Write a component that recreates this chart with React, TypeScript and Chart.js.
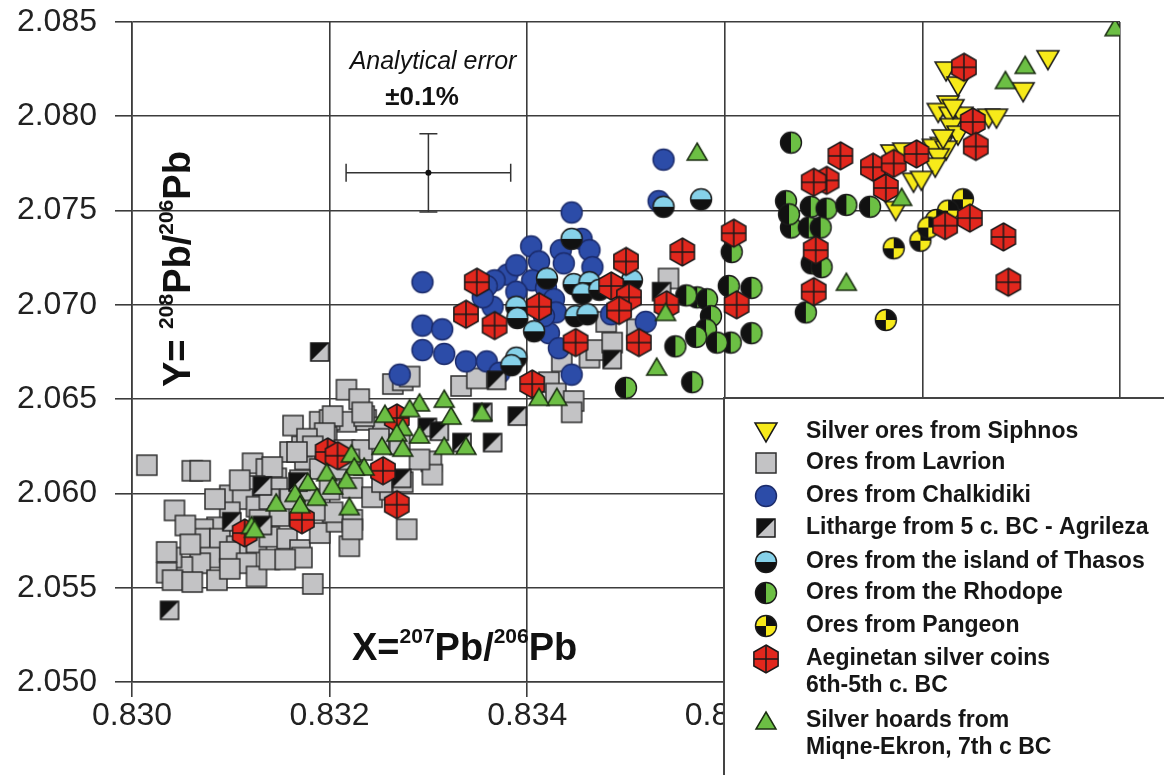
import React, { useEffect, useRef } from 'react';
import { Chart, registerables } from 'chart.js';

Chart.register(...registerables);

type P = [number, number];

// ---- axes ----
const xTickValues = [0.83, 0.832, 0.834, 0.836, 0.838, 0.84];
const xTickLabels = ['0.830', '0.832', '0.834', '0.836', '0.838', '0.840'];
const yTickValues = [2.05, 2.055, 2.06, 2.065, 2.07, 2.075, 2.08, 2.085];
const yTickLabels = ['2.050', '2.055', '2.060', '2.065', '2.070', '2.075', '2.080', '2.085'];

// ---- analytical error marker ----
const errorCenter: P = [0.833, 2.077];
const errorPercent = 0.1;

// ---- series ----
const siphnos: P[] = [
  [0.83927, 2.083], [0.83902, 2.0813], [0.83824, 2.0824], [0.83836, 2.0816], [0.83826, 2.0806],
  [0.83816, 2.0802], [0.83828, 2.08], [0.8384, 2.08], [0.83867, 2.0799], [0.83875, 2.0799],
  [0.83829, 2.0794], [0.83836, 2.079], [0.83819, 2.0784], [0.83811, 2.0783], [0.83824, 2.0782],
  [0.83816, 2.0778], [0.83813, 2.0773], [0.83769, 2.078], [0.83781, 2.0781], [0.83791, 2.0765],
  [0.83799, 2.0766], [0.83773, 2.075], [0.83821, 2.0788], [0.83831, 2.0804],
];

const lavrion: P[] = [
  [0.83015, 2.0615], [0.83061, 2.0612], [0.83069, 2.0612], [0.83122, 2.0616], [0.83136, 2.0613],
  [0.83146, 2.0608], [0.8316, 2.0622], [0.83175, 2.0618], [0.83172, 2.0625], [0.83163, 2.0636],
  [0.8319, 2.0638], [0.83217, 2.0638], [0.83237, 2.0639], [0.83254, 2.0635], [0.83217, 2.0655],
  [0.8323, 2.065], [0.83235, 2.0641], [0.832, 2.0639], [0.83264, 2.0658], [0.83274, 2.066],
  [0.83203, 2.0641], [0.83233, 2.0643], [0.83197, 2.063], [0.83195, 2.0632], [0.83177, 2.0629],
  [0.83183, 2.0625], [0.83167, 2.0622], [0.83142, 2.0614], [0.83124, 2.0604], [0.83147, 2.0603],
  [0.83099, 2.0599], [0.83112, 2.0597], [0.83126, 2.0593], [0.83139, 2.0597], [0.83149, 2.0588],
  [0.83099, 2.059], [0.83086, 2.0582], [0.83072, 2.0581], [0.83069, 2.0576], [0.83089, 2.0576],
  [0.83106, 2.0572], [0.83126, 2.0574], [0.83139, 2.0577], [0.83157, 2.0576], [0.8317, 2.057],
  [0.8319, 2.0579], [0.83207, 2.0585], [0.83223, 2.0586], [0.83223, 2.0603], [0.83243, 2.0598],
  [0.83043, 2.0591], [0.83079, 2.0566], [0.83099, 2.0569], [0.83116, 2.0563], [0.83069, 2.0563],
  [0.83051, 2.0561], [0.8304, 2.0566], [0.83035, 2.0569], [0.83035, 2.0558], [0.83041, 2.0554],
  [0.83061, 2.0553], [0.83086, 2.0554], [0.83126, 2.0556], [0.83172, 2.0566], [0.83183, 2.0552],
  [0.8322, 2.0572], [0.83278, 2.0581], [0.83203, 2.059], [0.83223, 2.0581], [0.83261, 2.0602],
  [0.83274, 2.0606], [0.83303, 2.0617], [0.83304, 2.061], [0.83253, 2.0606], [0.83333, 2.0657],
  [0.83349, 2.0661], [0.83281, 2.0662], [0.83422, 2.0659], [0.83429, 2.0653], [0.83447, 2.0649],
  [0.83445, 2.0643], [0.83435, 2.067], [0.83463, 2.0672], [0.8347, 2.0676], [0.83486, 2.068],
  [0.8348, 2.0691], [0.83511, 2.0687], [0.83543, 2.0714], [0.83109, 2.0607], [0.83129, 2.0586],
  [0.8316, 2.0597], [0.8318, 2.0597], [0.8319, 2.0613], [0.83207, 2.0613], [0.8317, 2.0607],
  [0.83084, 2.0597], [0.83054, 2.0583], [0.83059, 2.0573], [0.83099, 2.056], [0.83139, 2.0565],
  [0.83155, 2.0565], [0.83185, 2.0591], [0.83215, 2.0623], [0.83233, 2.0623], [0.8325, 2.0629],
  [0.83271, 2.0626], [0.83291, 2.0618], [0.832, 2.0602], [0.8322, 2.0618],
];

const chalkidiki: P[] = [
  [0.83538, 2.0777], [0.83533, 2.0755], [0.83445, 2.0749], [0.83404, 2.0731], [0.83434, 2.0729],
  [0.83455, 2.0735], [0.83463, 2.0729], [0.83412, 2.0723], [0.83437, 2.0722], [0.83466, 2.072],
  [0.8338, 2.0716], [0.83367, 2.0713], [0.83405, 2.0713], [0.83389, 2.0707], [0.83359, 2.071],
  [0.83365, 2.0699], [0.83419, 2.0709], [0.83427, 2.0703], [0.83429, 2.0696], [0.83422, 2.0685],
  [0.83485, 2.0695], [0.8352, 2.0691], [0.83294, 2.0712], [0.83294, 2.0689], [0.83314, 2.0687],
  [0.83294, 2.0676], [0.83316, 2.0674], [0.83338, 2.067], [0.83359, 2.067], [0.83372, 2.0664],
  [0.83271, 2.0663], [0.83445, 2.0663], [0.83355, 2.0704], [0.83417, 2.0694], [0.83432, 2.0677],
  [0.83389, 2.0721],
];

const litharge: P[] = [
  [0.8319, 2.0675], [0.83299, 2.0635], [0.83311, 2.0633], [0.83355, 2.0643], [0.83334, 2.0627],
  [0.83365, 2.0627], [0.83273, 2.0608], [0.83168, 2.0606], [0.83132, 2.0604], [0.83101, 2.0585],
  [0.83132, 2.0583], [0.83038, 2.0538], [0.83369, 2.066], [0.8339, 2.0641], [0.83486, 2.0671],
  [0.83536, 2.0707],
];

const thasos: P[] = [
  [0.83538, 2.0752], [0.83576, 2.0756], [0.83445, 2.0735], [0.8342, 2.0714], [0.83447, 2.0711],
  [0.83463, 2.0712], [0.83456, 2.0706], [0.83506, 2.0713], [0.83389, 2.0699], [0.8339, 2.0693],
  [0.83407, 2.0686], [0.83389, 2.0672], [0.83384, 2.0668], [0.83449, 2.0694], [0.83461, 2.0695],
  [0.83473, 2.0708],
];

const rhodope: P[] = [
  [0.83667, 2.0786], [0.83662, 2.0755], [0.83687, 2.0752], [0.83703, 2.0751], [0.83723, 2.0753],
  [0.83747, 2.0752], [0.83667, 2.0741], [0.83685, 2.0741], [0.83697, 2.0741], [0.83688, 2.0722],
  [0.83698, 2.072], [0.83607, 2.0728], [0.83604, 2.071], [0.83627, 2.0709], [0.83572, 2.0704],
  [0.83561, 2.0705], [0.83582, 2.0703], [0.83586, 2.0694], [0.83581, 2.0687], [0.83571, 2.0683],
  [0.8355, 2.0678], [0.83682, 2.0696], [0.83627, 2.0685], [0.83606, 2.068], [0.83567, 2.0659],
  [0.835, 2.0656], [0.83592, 2.068], [0.83665, 2.0748],
];

const pangeon: P[] = [
  [0.83771, 2.073], [0.83798, 2.0734], [0.83841, 2.0756], [0.83826, 2.075], [0.83814, 2.0745],
  [0.83763, 2.0692], [0.83806, 2.0741],
];

const aeginetan: P[] = [
  [0.83842, 2.0826], [0.83851, 2.0797], [0.83854, 2.0784], [0.83717, 2.0779], [0.83703, 2.0766],
  [0.8369, 2.0765], [0.8375, 2.0773], [0.83771, 2.0775], [0.83794, 2.078], [0.83763, 2.0762],
  [0.83823, 2.0742], [0.83848, 2.0746], [0.83882, 2.0736], [0.83887, 2.0712], [0.83692, 2.0729],
  [0.8369, 2.0707], [0.83609, 2.0738], [0.83612, 2.07], [0.83557, 2.0728], [0.83541, 2.07],
  [0.83513, 2.068], [0.835, 2.0723], [0.83485, 2.071], [0.83503, 2.0704], [0.83493, 2.0697],
  [0.83449, 2.068], [0.83412, 2.0699], [0.83405, 2.0658], [0.83349, 2.0712], [0.83338, 2.0695],
  [0.83367, 2.0689], [0.83268, 2.064], [0.83198, 2.0622], [0.83208, 2.062], [0.83254, 2.0612],
  [0.83268, 2.0594], [0.83172, 2.0586], [0.83114, 2.0579],
];

const miqne: P[] = [
  [0.83995, 2.0847], [0.83904, 2.0827], [0.83884, 2.0819], [0.83779, 2.0757], [0.83572, 2.0781],
  [0.83723, 2.0712], [0.8354, 2.0696], [0.83531, 2.0667], [0.8343, 2.0651], [0.83412, 2.0651],
  [0.83354, 2.0643], [0.83323, 2.0641], [0.83316, 2.065], [0.83291, 2.0648], [0.83281, 2.0645],
  [0.83256, 2.0642], [0.83274, 2.0635], [0.83268, 2.0632], [0.83291, 2.0631], [0.83253, 2.0625],
  [0.83274, 2.0624], [0.83316, 2.0625], [0.83338, 2.0625], [0.83222, 2.0621], [0.83235, 2.0614],
  [0.83225, 2.0614], [0.83197, 2.0611], [0.83217, 2.0607], [0.83178, 2.0606], [0.83203, 2.0604],
  [0.83165, 2.06], [0.83187, 2.0598], [0.83146, 2.0595], [0.8317, 2.0594], [0.8322, 2.0593],
  [0.83121, 2.0583], [0.83124, 2.0581],
];

const legendLabels: string[][] = [
  ['Silver ores from Siphnos'],
  ['Ores from Lavrion'],
  ['Ores from Chalkidiki'],
  ['Litharge from 5 c. BC - Agrileza'],
  ['Ores from the island of Thasos'],
  ['Ores from the Rhodope'],
  ['Ores from Pangeon'],
  ['Aeginetan silver coins', '6th-5th c. BC'],
  ['Silver hoards from', 'Miqne-Ekron, 7th c BC'],
];

// ---- marker drawing ----
const COL = {
  yellow: '#f7ea1a',
  gray: '#c3c3c5',
  blue: '#2c4ca8',
  blueEdge: '#1b2b6b',
  lightBlue: '#86d1e9',
  green: '#6cbf44',
  red: '#e2271d',
  black: '#111111',
  edge: '#1a1a1a',
};

function mk(size: number, draw: (ctx: CanvasRenderingContext2D, c: number) => void) {
  const cv = document.createElement('canvas');
  cv.width = size;
  cv.height = size;
  const ctx = cv.getContext('2d')!;
  draw(ctx, size / 2);
  return cv;
}

function wedge(ctx: CanvasRenderingContext2D, c: number, r: number, a0: number, a1: number, color: string) {
  ctx.beginPath();
  ctx.moveTo(c, c);
  ctx.arc(c, c, r, a0, a1);
  ctx.closePath();
  ctx.fillStyle = color;
  ctx.fill();
}

function ring(ctx: CanvasRenderingContext2D, c: number, r: number, color: string) {
  ctx.beginPath();
  ctx.arc(c, c, r, 0, Math.PI * 2);
  ctx.lineWidth = 1.4;
  ctx.strokeStyle = color;
  ctx.stroke();
}

function makeMarkers() {
  const R = 10.5;
  const triDown = mk(28, (ctx) => {
    ctx.beginPath();
    ctx.moveTo(3, 5);
    ctx.lineTo(25, 5);
    ctx.lineTo(14, 24);
    ctx.closePath();
    ctx.fillStyle = COL.yellow;
    ctx.fill();
    ctx.lineWidth = 1.5;
    ctx.strokeStyle = COL.edge;
    ctx.stroke();
  });
  const square = mk(26, (ctx) => {
    ctx.fillStyle = COL.gray;
    ctx.fillRect(3, 3, 20, 20);
    ctx.lineWidth = 1.5;
    ctx.strokeStyle = '#2e2e2e';
    ctx.strokeRect(3, 3, 20, 20);
  });
  const circle = mk(26, (ctx, c) => {
    ctx.beginPath();
    ctx.arc(c, c, R, 0, Math.PI * 2);
    ctx.fillStyle = COL.blue;
    ctx.fill();
    ring(ctx, c, R, COL.blueEdge);
  });
  const lith = mk(24, (ctx) => {
    ctx.fillStyle = COL.gray;
    ctx.fillRect(3, 3, 18, 18);
    ctx.beginPath();
    ctx.moveTo(3, 3);
    ctx.lineTo(21, 3);
    ctx.lineTo(3, 21);
    ctx.closePath();
    ctx.fillStyle = COL.black;
    ctx.fill();
    ctx.lineWidth = 1.5;
    ctx.strokeStyle = COL.edge;
    ctx.strokeRect(3, 3, 18, 18);
  });
  const thas = mk(26, (ctx, c) => {
    wedge(ctx, c, R, Math.PI, Math.PI * 2, COL.lightBlue);
    wedge(ctx, c, R, 0, Math.PI, COL.black);
    ring(ctx, c, R, COL.edge);
  });
  const rhod = mk(26, (ctx, c) => {
    wedge(ctx, c, R, Math.PI / 2, Math.PI * 1.5, COL.black);
    wedge(ctx, c, R, -Math.PI / 2, Math.PI / 2, COL.green);
    ring(ctx, c, R, COL.edge);
  });
  const pang = mk(26, (ctx, c) => {
    wedge(ctx, c, R, Math.PI, Math.PI * 1.5, COL.yellow);
    wedge(ctx, c, R, Math.PI * 1.5, Math.PI * 2, COL.black);
    wedge(ctx, c, R, 0, Math.PI / 2, COL.yellow);
    wedge(ctx, c, R, Math.PI / 2, Math.PI, COL.black);
    ring(ctx, c, R, COL.edge);
  });
  const hex = mk(32, (ctx, c) => {
    const HR = 14;
    ctx.beginPath();
    for (let i = 0; i < 6; i++) {
      const a = -Math.PI / 2 + (i * Math.PI) / 3;
      const px = c + HR * Math.cos(a);
      const py = c + HR * Math.sin(a);
      if (i === 0) ctx.moveTo(px, py);
      else ctx.lineTo(px, py);
    }
    ctx.closePath();
    ctx.fillStyle = COL.red;
    ctx.fill();
    ctx.lineWidth = 1.5;
    ctx.strokeStyle = COL.edge;
    ctx.stroke();
    const hw = HR * Math.cos(Math.PI / 6);
    ctx.beginPath();
    ctx.moveTo(c, c - HR);
    ctx.lineTo(c, c + HR);
    ctx.moveTo(c - hw, c);
    ctx.lineTo(c + hw, c);
    ctx.stroke();
  });
  const triUp = mk(28, (ctx) => {
    ctx.beginPath();
    ctx.moveTo(14, 5);
    ctx.lineTo(24, 22);
    ctx.lineTo(4, 22);
    ctx.closePath();
    ctx.fillStyle = COL.green;
    ctx.fill();
    ctx.lineWidth = 1.5;
    ctx.strokeStyle = '#1b2e12';
    ctx.stroke();
  });
  return [triDown, square, circle, lith, thas, rhod, pang, hex, triUp];
}

type Seg = { t: string; sup?: boolean };
const xTitle: Seg[] = [{ t: 'X=' }, { t: '207', sup: true }, { t: 'Pb/' }, { t: '206', sup: true }, { t: 'Pb' }];
const yTitle: Seg[] = [{ t: 'Y= ' }, { t: '208', sup: true }, { t: 'Pb/' }, { t: '206', sup: true }, { t: 'Pb' }];

function drawRich(ctx: CanvasRenderingContext2D, segs: Seg[], x: number, y: number) {
  const mainFont = 'bold 38px "Liberation Sans", Arial, sans-serif';
  const supFont = 'bold 21px "Liberation Sans", Arial, sans-serif';
  let cx = x;
  for (const s of segs) {
    ctx.font = s.sup ? supFont : mainFont;
    ctx.fillText(s.t, cx, s.sup ? y - 17 : y);
    cx += ctx.measureText(s.t).width;
  }
}

// target plot rectangle in the 1164x775 frame
const AREA = { left: 132, top: 22, right: 1120, bottom: 682 };

export default function App() {
  const ref = useRef<HTMLCanvasElement | null>(null);

  useEffect(() => {
    document.body.style.margin = '0';
    const canvas = ref.current;
    if (!canvas) return;
    const markers = makeMarkers();
    const series: P[][] = [siphnos, lavrion, chalkidiki, litharge, thasos, rhodope, pangeon, aeginetan, miqne];
    // drawing priority (0 = on top)
    const orders = [2, 8, 7, 6, 5, 4, 3, 1, 0];

    const gridColor = '#3c3c3c';
    const tickFont = { family: '"Liberation Sans", Arial, sans-serif', size: 32 };

    const overlay = {
      id: 'overlay',
      afterDraw(chart: any) {
        const ctx: CanvasRenderingContext2D = chart.ctx;
        const xs = chart.scales.x;
        const ys = chart.scales.y;
        ctx.save();
        ctx.fillStyle = '#111';
        ctx.textBaseline = 'alphabetic';
        ctx.textAlign = 'left';
        drawRich(ctx, xTitle, 352, 660);
        ctx.save();
        ctx.translate(190, 387);
        ctx.rotate(-Math.PI / 2);
        drawRich(ctx, yTitle, 0, 0);
        ctx.restore();

        ctx.textAlign = 'center';
        ctx.font = 'italic 25px "Liberation Sans", Arial, sans-serif';
        ctx.fillText('Analytical error', 433, 69);
        ctx.font = 'bold 26px "Liberation Sans", Arial, sans-serif';
        ctx.fillText('\u00b10.1%', 422, 105);

        const [ex, ey] = errorCenter;
        const dx = (ex * errorPercent) / 100;
        const dy = (ey * errorPercent) / 100;
        const cx = xs.getPixelForValue(ex);
        const cy = ys.getPixelForValue(ey);
        const x0 = xs.getPixelForValue(ex - dx);
        const x1 = xs.getPixelForValue(ex + dx);
        const y0 = ys.getPixelForValue(ey + dy);
        const y1 = ys.getPixelForValue(ey - dy);
        ctx.strokeStyle = '#333';
        ctx.lineWidth = 1.5;
        ctx.beginPath();
        ctx.moveTo(x0, cy); ctx.lineTo(x1, cy);
        ctx.moveTo(x0, cy - 9); ctx.lineTo(x0, cy + 9);
        ctx.moveTo(x1, cy - 9); ctx.lineTo(x1, cy + 9);
        ctx.moveTo(cx, y0); ctx.lineTo(cx, y1);
        ctx.moveTo(cx - 9, y0); ctx.lineTo(cx + 9, y0);
        ctx.moveTo(cx - 9, y1); ctx.lineTo(cx + 9, y1);
        ctx.stroke();
        ctx.beginPath();
        ctx.arc(cx, cy, 3, 0, Math.PI * 2);
        ctx.fillStyle = '#111';
        ctx.fill();

        // legend box
        ctx.fillStyle = '#ffffff';
        ctx.fillRect(724, 398, 470, 400);
        ctx.strokeStyle = '#444';
        ctx.lineWidth = 2;
        ctx.strokeRect(724, 398, 470, 400);
        const rows = [432, 463, 496, 528, 562, 593, 626, 659, 721];
        ctx.textAlign = 'left';
        ctx.textBaseline = 'middle';
        ctx.fillStyle = '#161616';
        ctx.font = 'bold 23px "Liberation Sans", Arial, sans-serif';
        legendLabels.forEach((lines, i) => {
          const m = markers[i];
          ctx.drawImage(m, 766 - m.width / 2, rows[i] - m.height / 2);
          lines.forEach((line, j) => {
            ctx.fillText(line, 806, rows[i] + j * 27);
          });
        });
        ctx.restore();
      },
    };

    const padding = { top: AREA.top, right: 1164 - AREA.right, left: 0, bottom: 0 };

    const chart = new Chart(canvas, {
      type: 'scatter',
      data: {
        datasets: series.map((pts, i) => ({
          label: legendLabels[i].join(' '),
          data: pts.map(([x, y]) => ({ x, y })),
          pointStyle: markers[i] as any,
          pointRadius: 11,
          pointHoverRadius: 11,
          order: orders[i],
        })),
      },
      options: {
        animation: false,
        responsive: false,
        events: [],
        layout: { padding },
        plugins: { legend: { display: false }, tooltip: { enabled: false } },
        scales: {
          x: {
            type: 'linear',
            min: 0.83,
            max: 0.84,
            afterBuildTicks: (s: any) => {
              s.ticks = xTickValues.map((v) => ({ value: v }));
            },
            afterFit: (s: any) => {
              s.height = 775 - AREA.bottom;
              s.paddingLeft = 0;
              s.paddingRight = 0;
            },
            grid: { color: gridColor, lineWidth: 1.6, tickLength: 15, drawTicks: true, tickColor: gridColor },
            border: { display: true, color: gridColor, width: 1.6 },
            ticks: {
              callback: (_v: any, i: number) => xTickLabels[i],
              font: tickFont,
              color: '#222',
              padding: 0,
              maxRotation: 0,
              autoSkip: false,
            },
          },
          y: {
            type: 'linear',
            min: 2.05,
            max: 2.085,
            afterBuildTicks: (s: any) => {
              s.ticks = yTickValues.map((v) => ({ value: v }));
            },
            afterFit: (s: any) => {
              s.width = AREA.left;
              s.paddingTop = 0;
              s.paddingBottom = 0;
            },
            grid: { color: gridColor, lineWidth: 1.6, tickLength: 17, drawTicks: true, tickColor: gridColor },
            border: { display: true, color: gridColor, width: 1.6 },
            ticks: {
              callback: (_v: any, i: number) => yTickLabels[i],
              font: tickFont,
              color: '#222',
              padding: 18,
              autoSkip: false,
            },
          },
        },
      } as any,
      plugins: [overlay],
    });

    return () => chart.destroy();
  }, []);

  return (
    <div style={{ position: 'fixed', left: 0, top: 0, width: 1164, height: 775, background: '#fff' }}>
      <canvas ref={ref} width={1164} height={775} style={{ display: 'block', width: 1164, height: 775 }} />
    </div>
  );
}
